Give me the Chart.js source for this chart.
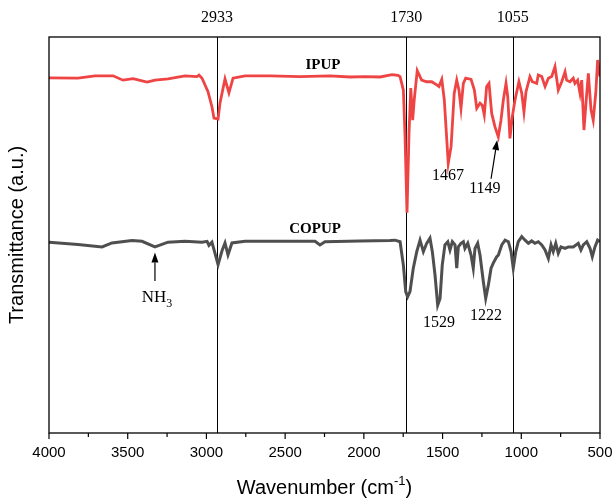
<!DOCTYPE html>
<html><head><meta charset="utf-8">
<script src="https://cdn.jsdelivr.net/npm/chart.js@4.4.1/dist/chart.umd.min.js"></script>
<style>html,body{margin:0;padding:0;background:#fff}</style>
</head><body>
<canvas id="c" width="615" height="501"></canvas>
<script>
// ---- data (wavenumber in cm-1, transmittance in arbitrary units) ----
const ipupWavenumber = [4000,3816,3708,3593,3530,3466,3377,3327,3244,3136,3060,3047,3028,2990,2965,2952,2926,2914,2882,2857,2831,2755,
  2596,2406,2215,2088,1993,1897,1821,1783,
  1770,1749,1739,1726,1713,1702,1690,1680,1661,1633,1601,1569,1537,1523,1505,1489,1464,1446,1426,1410,1396,1383,1368,1353,1319,1298,1283,1262,1248,1235,1220,1205,1188,1167,1146,1129,1114,1097,1086,1072,1057,1040,1015,997,983,970,945,930,902,892,870,849,828,807,786,765,743,722,712,691,670,659,642,627,616,602,589,574,557,543,527,515,500];
const ipupTransmittance = [89.7,89.6,90.2,90.2,89.1,89.5,88.6,89.1,89.4,90.2,90.0,90.4,89.6,86.2,82.4,79.5,79.3,83.3,89.4,85.9,89.6,90.2,
  90.2,90.0,90.2,89.9,90.0,89.9,90.5,90.3,
  90.0,86.6,75.8,55.6,75.8,87.1,79.0,84.1,91.5,89.1,88.7,88.7,87.9,87.5,89.3,84.1,68.1,72.3,85.8,89.1,86.6,82.0,88.3,89.6,89.3,86.6,82.0,83.3,82.8,80.3,87.5,88.3,80.7,77.3,74.8,79.0,84.1,88.3,84.9,74.4,79.9,84.1,88.7,85.8,81.1,86.2,90.0,88.7,88.3,90.4,90.0,87.5,89.6,90.0,92.5,86.6,88.7,91.2,89.1,88.7,89.6,88.3,89.1,85.8,89.1,76.5,83.3,90.8,81.6,79.0,85.8,94.2,90.0];

const copupWavenumber = [4000,3816,3663,3600,3473,3409,3327,3244,3136,3028,2996,2984,2965,2952,2926,2901,2882,2863,2838,2755,
  2533,2310,2279,2247,2025,1834,1802,
  1770,1749,1734,1722,1707,1686,1664,1643,1622,1601,1580,1565,1548,1531,1516,1502,1485,1467,1453,1438,1421,1410,1400,1383,1368,1358,1340,1319,1305,1294,1277,1262,1241,1226,1209,1192,1178,1156,1146,1124,1103,1082,1065,1051,1035,1019,997,976,955,934,913,892,870,849,828,811,797,781,765,748,722,701,670,638,621,606,584,563,549,532,515,500];
const copupTransmittance = [48.2,47.6,47.0,48.0,48.6,48.4,47.0,48.2,48.4,48.2,48.4,47.4,48.2,46.3,42.5,46.0,48.0,45.0,48.0,48.4,
  48.4,48.4,47.5,48.3,48.5,48.6,48.7,
  48.3,42.4,35.7,34.4,35.7,41.6,45.8,48.7,45.8,47.9,49.2,45.8,39.9,32.3,34.0,42.4,47.5,48.3,46.2,48.3,47.5,41.6,47.0,47.9,48.3,46.6,47.9,44.9,41.6,46.6,47.9,44.9,38.2,34.0,37.4,41.6,42.9,44.5,44.9,47.5,48.7,48.3,45.8,41.6,45.8,48.3,49.6,48.7,47.9,48.5,47.9,48.3,47.5,46.2,44.1,47.5,45.8,47.9,45.4,47.0,46.6,47.0,47.0,47.9,46.2,47.5,48.3,46.6,44.5,47.0,48.7,48.3];

const seriesNames = ['IPUP', 'COPUP'];
const markerWavenumbers = [2933, 1730, 1055];
const xTickLabels = [4000, 3500, 3000, 2500, 2000, 1500, 1000, 500];

// ---- annotation layout (text placement in data units) ----
const textNotes = [
  {text:'IPUP',  wn:2260, t:92.9, bold:true, size:15},
  {text:'COPUP', wn:2310, t:51.5, bold:true, size:15},
  {text:'1467',  wn:1466, t:64.9, size:16},
  {text:'1149',  wn:1231, t:61.6, size:16},
  {text:'1529',  wn:1523, t:27.8, size:16},
  {text:'1222',  wn:1224, t:29.5, size:16}
];
const arrows = [
  {from:[1192,64.2], to:[1153,74.0]},
  {from:[3327,38.4], to:[3327,45.6]}
];

const SANS = '"Liberation Sans", Arial, sans-serif';
const SERIF = '"Liberation Serif", "Times New Roman", serif';

function pts(xs, ys){ return xs.map((x,i)=>({x:x, y:ys[i]})); }

const overlay = {
  id:'overlay',
  beforeDatasetsDraw(chart){
    const {ctx, chartArea:a, scales:{x}} = chart;
    ctx.save();
    ctx.strokeStyle = '#000'; ctx.lineWidth = 1;
    markerWavenumbers.forEach(w=>{
      const px = Math.round(x.getPixelForValue(w)) + 0.5;
      ctx.beginPath(); ctx.moveTo(px, a.top); ctx.lineTo(px, a.bottom); ctx.stroke();
    });
    ctx.restore();
  },
  afterDraw(chart){
    const {ctx, chartArea:a, scales:{x, y}} = chart;
    ctx.save();
    // frame
    ctx.strokeStyle = '#000'; ctx.lineWidth = 1.3;
    ctx.strokeRect(a.left, a.top, a.right - a.left, a.bottom - a.top);
    // ticks on x axis (major every 500, minor every 250)
    ctx.lineWidth = 1.2;
    for (let w = 500; w <= 4000; w += 250) {
      const px = x.getPixelForValue(w);
      const len = (w % 500 === 0) ? 6 : 4;
      ctx.beginPath(); ctx.moveTo(px, a.bottom); ctx.lineTo(px, a.bottom + len); ctx.stroke();
    }
    // tick labels
    ctx.fillStyle = '#000';
    ctx.font = '15px ' + SANS;
    ctx.textAlign = 'center'; ctx.textBaseline = 'middle';
    xTickLabels.forEach(v=>{
      ctx.fillText(String(v), x.getPixelForValue(v), a.bottom + 20);
    });
    // top labels for marker lines
    ctx.font = '16px ' + SERIF;
    markerWavenumbers.forEach(w=>{
      ctx.fillText(String(w), x.getPixelForValue(w), a.top - 19);
    });
    // text notes
    textNotes.forEach(n=>{
      ctx.font = (n.bold ? 'bold ' : '') + n.size + 'px ' + SERIF;
      ctx.fillText(n.text, x.getPixelForValue(n.wn), y.getPixelForValue(n.t));
    });
    // NH3 with subscript
    {
      const cx = x.getPixelForValue(3314), cy = y.getPixelForValue(34.1);
      ctx.font = '17px ' + SERIF;
      const w1 = ctx.measureText('NH').width;
      ctx.font = '12px ' + SERIF;
      const w2 = ctx.measureText('3').width;
      const sx = cx - (w1 + w2) / 2;
      ctx.textAlign = 'left';
      ctx.font = '17px ' + SERIF;
      ctx.fillText('NH', sx, cy);
      ctx.font = '12px ' + SERIF;
      ctx.fillText('3', sx + w1, cy + 6);
      ctx.textAlign = 'center';
    }
    // arrows
    ctx.strokeStyle = '#000'; ctx.fillStyle = '#000'; ctx.lineWidth = 1.2;
    arrows.forEach(ar=>{
      const x1 = x.getPixelForValue(ar.from[0]), y1 = y.getPixelForValue(ar.from[1]);
      const x2 = x.getPixelForValue(ar.to[0]), y2 = y.getPixelForValue(ar.to[1]);
      const ang = Math.atan2(y2 - y1, x2 - x1);
      const hl = 10, hw = 3.5;
      const bx = x2 - hl * Math.cos(ang), by = y2 - hl * Math.sin(ang);
      ctx.beginPath(); ctx.moveTo(x1, y1); ctx.lineTo(bx, by); ctx.stroke();
      ctx.beginPath();
      ctx.moveTo(x2, y2);
      ctx.lineTo(bx + hw * Math.sin(ang), by - hw * Math.cos(ang));
      ctx.lineTo(bx - hw * Math.sin(ang), by + hw * Math.cos(ang));
      ctx.closePath(); ctx.fill();
    });
    // axis titles
    ctx.fillStyle = '#000';
    {
      const main = 'Wavenumber (cm', sup = '-1', tail = ')';
      ctx.font = '20px ' + SANS;
      const wm = ctx.measureText(main).width, wt = ctx.measureText(tail).width;
      ctx.font = '13px ' + SANS;
      const ws = ctx.measureText(sup).width;
      const total = wm + ws + wt;
      const cx = (a.left + a.right) / 2, cy = 488;
      let sx = cx - total / 2;
      ctx.textAlign = 'left'; ctx.textBaseline = 'middle';
      ctx.font = '20px ' + SANS; ctx.fillText(main, sx, cy);
      ctx.font = '13px ' + SANS; ctx.fillText(sup, sx + wm, cy - 7);
      ctx.font = '20px ' + SANS; ctx.fillText(tail, sx + wm + ws, cy);
    }
    ctx.translate(17, (a.top + a.bottom) / 2);
    ctx.rotate(-Math.PI / 2);
    ctx.textAlign = 'center'; ctx.textBaseline = 'middle';
    ctx.font = '20px ' + SANS;
    ctx.fillText('Transmittance (a.u.)', 0, 0);
    ctx.restore();
  }
};

new Chart(document.getElementById('c'), {
  type: 'line',
  data: {
    datasets: [
      {label: seriesNames[0], data: pts(ipupWavenumber, ipupTransmittance), borderColor: '#ef4444', borderWidth: 2.8, pointRadius: 0, tension: 0, fill: false},
      {label: seriesNames[1], data: pts(copupWavenumber, copupTransmittance), borderColor: '#4f4f4f', borderWidth: 3, pointRadius: 0, tension: 0, fill: false}
    ]
  },
  options: {
    responsive: false,
    animation: false,
    devicePixelRatio: 1,
    layout: {padding: {left: 49, right: 15, top: 37, bottom: 0}},
    plugins: {legend: {display: false}, tooltip: {enabled: false}},
    scales: {
      x: {
        type: 'linear', reverse: true, min: 500, max: 4000,
        afterFit(s){ s.height = 68; s.paddingLeft = 0; s.paddingRight = 0; },
        grid: {display: false, drawTicks: false},
        border: {display: false},
        ticks: {display: false}
      },
      y: {display: false, min: 0, max: 100}
    }
  },
  plugins: [overlay]
});
</script>
</body></html>
